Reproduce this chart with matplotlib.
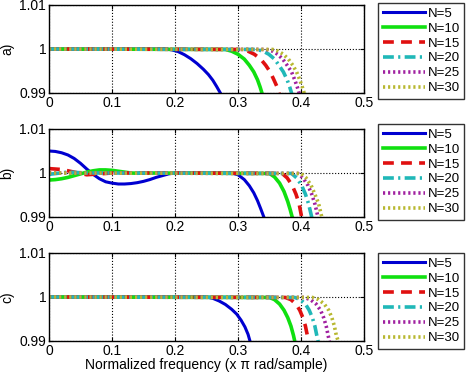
import matplotlib
matplotlib.use("Agg")
import matplotlib.pyplot as plt

plt.rcParams['font.family'] = ['Liberation Sans', 'DejaVu Sans']
plt.rcParams['font.size'] = 10

labels = ['N=5', 'N=10', 'N=15', 'N=20', 'N=25', 'N=30']
panel_names = ['a)', 'b)', 'c)']
xticks = [0, 0.1, 0.2, 0.3, 0.4, 0.5]
yticks = [0.99, 1, 1.01]

# panel a)
a_f5 = [0, 0.185, 0.195, 0.205, 0.215, 0.225, 0.235, 0.245, 0.253, 0.26, 0.266, 0.272, 0.276]
a_m5 = [1, 1.0, 0.9998, 0.9994, 0.9987, 0.9978, 0.9967, 0.9954, 0.9942, 0.9929, 0.9915, 0.99, 0.9888]
a_f10 = [0, 0.28, 0.29, 0.3, 0.31, 0.318, 0.325, 0.331, 0.335, 0.338, 0.342]
a_m10 = [1, 0.9999, 0.9995, 0.9988, 0.9977, 0.9963, 0.9948, 0.993, 0.9914, 0.99, 0.988]
a_f15 = [0, 0.305, 0.316, 0.326, 0.336, 0.344, 0.351, 0.357, 0.362, 0.365, 0.369]
a_m15 = [1, 0.9999, 0.9995, 0.9988, 0.9977, 0.9963, 0.9948, 0.993, 0.9914, 0.99, 0.988]
a_f20 = [0, 0.33, 0.34, 0.349, 0.358, 0.365, 0.372, 0.378, 0.382, 0.385, 0.389]
a_m20 = [1, 0.9999, 0.9995, 0.9988, 0.9977, 0.9963, 0.9948, 0.993, 0.9914, 0.99, 0.988]
a_f25 = [0, 0.345, 0.355, 0.363, 0.371, 0.378, 0.385, 0.39, 0.394, 0.397, 0.40]
a_m25 = [1, 0.9999, 0.9995, 0.9988, 0.9977, 0.9963, 0.9948, 0.993, 0.9914, 0.99, 0.988]
a_f30 = [0, 0.355, 0.364, 0.372, 0.38, 0.387, 0.393, 0.398, 0.402, 0.405, 0.408]
a_m30 = [1, 0.9999, 0.9995, 0.9988, 0.9977, 0.9963, 0.9948, 0.993, 0.9914, 0.99, 0.988]

# panel b)
b_f5 = [0, 0.01, 0.02, 0.03, 0.04, 0.05, 0.06, 0.07, 0.08, 0.09, 0.10, 0.11, 0.12, 0.13, 0.14, 0.15,
        0.16, 0.17, 0.18, 0.19, 0.2, 0.25, 0.29, 0.3, 0.31, 0.318, 0.325, 0.331, 0.336, 0.341, 0.345]
b_m5 = [1.005, 1.0049, 1.0046, 1.0041, 1.0033, 1.0022, 1.0009, 0.9997, 0.9987, 0.998, 0.9977, 0.9975,
        0.9975, 0.9976, 0.9978, 0.9981, 0.9985, 0.999, 0.9994, 0.9998, 1.0, 1.0, 1.0, 0.9996, 0.9985,
        0.9971, 0.9955, 0.9937, 0.9919, 0.99, 0.9884]
b_f10 = [0, 0.01, 0.02, 0.03, 0.04, 0.05, 0.06, 0.07, 0.08, 0.09, 0.1, 0.11, 0.12, 0.13, 0.14, 0.16,
         0.35, 0.358, 0.366, 0.373, 0.379, 0.383, 0.386, 0.389]
b_m10 = [0.9984, 0.9985, 0.9987, 0.999, 0.9994, 0.9998, 1.0002, 1.0005, 1.0007, 1.0007, 1.0006, 1.0004,
         1.0002, 1.0, 0.99995, 1.0, 0.9999, 0.9991, 0.9977, 0.9958, 0.9935, 0.9916, 0.99, 0.9885]
b_f15 = [0, 0.02, 0.04, 0.06, 0.08, 0.1, 0.2, 0.37, 0.378, 0.386, 0.392, 0.397, 0.401, 0.405]
b_m15 = [1.001, 1.0008, 1.0002, 0.9996, 0.9998, 1.0, 1.0, 0.9999, 0.9989, 0.9972, 0.9952, 0.993, 0.99, 0.988]
b_f20 = [0, 0.03, 0.06, 0.1, 0.385, 0.393, 0.401, 0.407, 0.412, 0.417, 0.421]
b_m20 = [0.9997, 1.0002, 1.0, 1.0, 0.9999, 0.9989, 0.9972, 0.9952, 0.993, 0.99, 0.988]
b_f25 = [0, 0.395, 0.403, 0.411, 0.417, 0.422, 0.427, 0.43]
b_m25 = [1, 0.9999, 0.9989, 0.9972, 0.9952, 0.993, 0.99, 0.988]
b_f30 = [0, 0.40, 0.408, 0.416, 0.422, 0.428, 0.433, 0.436]
b_m30 = [1, 0.9999, 0.9989, 0.9972, 0.9952, 0.993, 0.99, 0.988]

# panel c)
c_f5 = [0, 0.25, 0.26, 0.27, 0.28, 0.29, 0.298, 0.305, 0.311, 0.316, 0.319, 0.323]
c_m5 = [1, 1.0, 0.9997, 0.9991, 0.9983, 0.9972, 0.9961, 0.9947, 0.9932, 0.9915, 0.99, 0.988]
c_f10 = [0, 0.35, 0.358, 0.366, 0.373, 0.379, 0.384, 0.388, 0.39, 0.393]
c_m10 = [1, 0.9999, 0.9994, 0.9984, 0.997, 0.9953, 0.9934, 0.9913, 0.99, 0.988]
c_f15 = [0, 0.375, 0.384, 0.392, 0.398, 0.403, 0.407, 0.41, 0.412, 0.415]
c_m15 = [1, 0.9999, 0.9994, 0.9984, 0.997, 0.9953, 0.9934, 0.9913, 0.99, 0.988]
c_f20 = [0, 0.39, 0.399, 0.407, 0.413, 0.418, 0.422, 0.425, 0.427, 0.43]
c_m20 = [1, 0.9999, 0.9994, 0.9984, 0.997, 0.9953, 0.9934, 0.9913, 0.99, 0.988]
c_f25 = [0, 0.405, 0.415, 0.424, 0.431, 0.436, 0.44, 0.443, 0.445, 0.448]
c_m25 = [1, 0.9999, 0.9994, 0.9984, 0.997, 0.9953, 0.9934, 0.9913, 0.99, 0.988]
c_f30 = [0, 0.418, 0.428, 0.437, 0.444, 0.449, 0.453, 0.456, 0.459, 0.462]
c_m30 = [1, 0.9999, 0.9994, 0.9984, 0.997, 0.9953, 0.9934, 0.9913, 0.99, 0.988]

panels = [
    [(a_f5, a_m5), (a_f10, a_m10), (a_f15, a_m15), (a_f20, a_m20), (a_f25, a_m25), (a_f30, a_m30)],
    [(b_f5, b_m5), (b_f10, b_m10), (b_f15, b_m15), (b_f20, b_m20), (b_f25, b_m25), (b_f30, b_m30)],
    [(c_f5, c_m5), (c_f10, c_m10), (c_f15, c_m15), (c_f20, c_m20), (c_f25, c_m25), (c_f30, c_m30)],
]

colors = ['#0000d0', '#10e010', '#e01010', '#20b8b8', '#a020a0', '#b8b830']
styles = ['-', '-', (0, (3, 2)), (0, (3, 1.2, 0.6, 1.2)), (0, (0.6, 0.8)), (0, (0.6, 0.8))]
widths = [2.2, 2.6, 2.6, 2.6, 2.6, 2.6]

fig = plt.figure(figsize=(4.67, 3.76), dpi=100)

left = 49 / 467
width = (364 - 49) / 467
tops = [5, 129, 253]
height = 88 / 376
legend_tops = [3, 124, 253]

for i, curves in enumerate(panels):
    bottom = 1 - (tops[i] + 88) / 376
    ax = fig.add_axes([left, bottom, width, height])
    for j, (f, m) in enumerate(curves):
        ax.plot(f, m, color=colors[j], linestyle=styles[j], linewidth=widths[j], label=labels[j])
    ax.set_xlim(0, 0.5)
    ax.set_ylim(0.99, 1.01)
    ax.set_xticks(xticks)
    ax.set_xticklabels(['0', '0.1', '0.2', '0.3', '0.4', '0.5'])
    ax.set_yticks(yticks)
    ax.set_yticklabels(['0.99', '1', '1.01'])
    ax.grid(True, color='black', linestyle=':', linewidth=0.8)
    ax.tick_params(direction='in', length=3, top=True, right=True, pad=2)
    for s in ax.spines.values():
        s.set_linewidth(1.0)
    ax.set_ylabel(panel_names[i], labelpad=4)
    if i == 2:
        ax.set_xlabel('Normalized frequency (x \u03c0 rad/sample)', labelpad=0)
    leg = ax.legend(loc='upper left', bbox_to_anchor=(378 / 467, 1 - legend_tops[i] / 376),
                    bbox_transform=fig.transFigure, borderaxespad=0, frameon=True,
                    fancybox=False, edgecolor='black', handlelength=3.2, handletextpad=0.2,
                    labelspacing=0.2, borderpad=0.35, fontsize=9.5)
    leg.get_frame().set_linewidth(1.0)

fig.savefig('out.png', dpi=100)
